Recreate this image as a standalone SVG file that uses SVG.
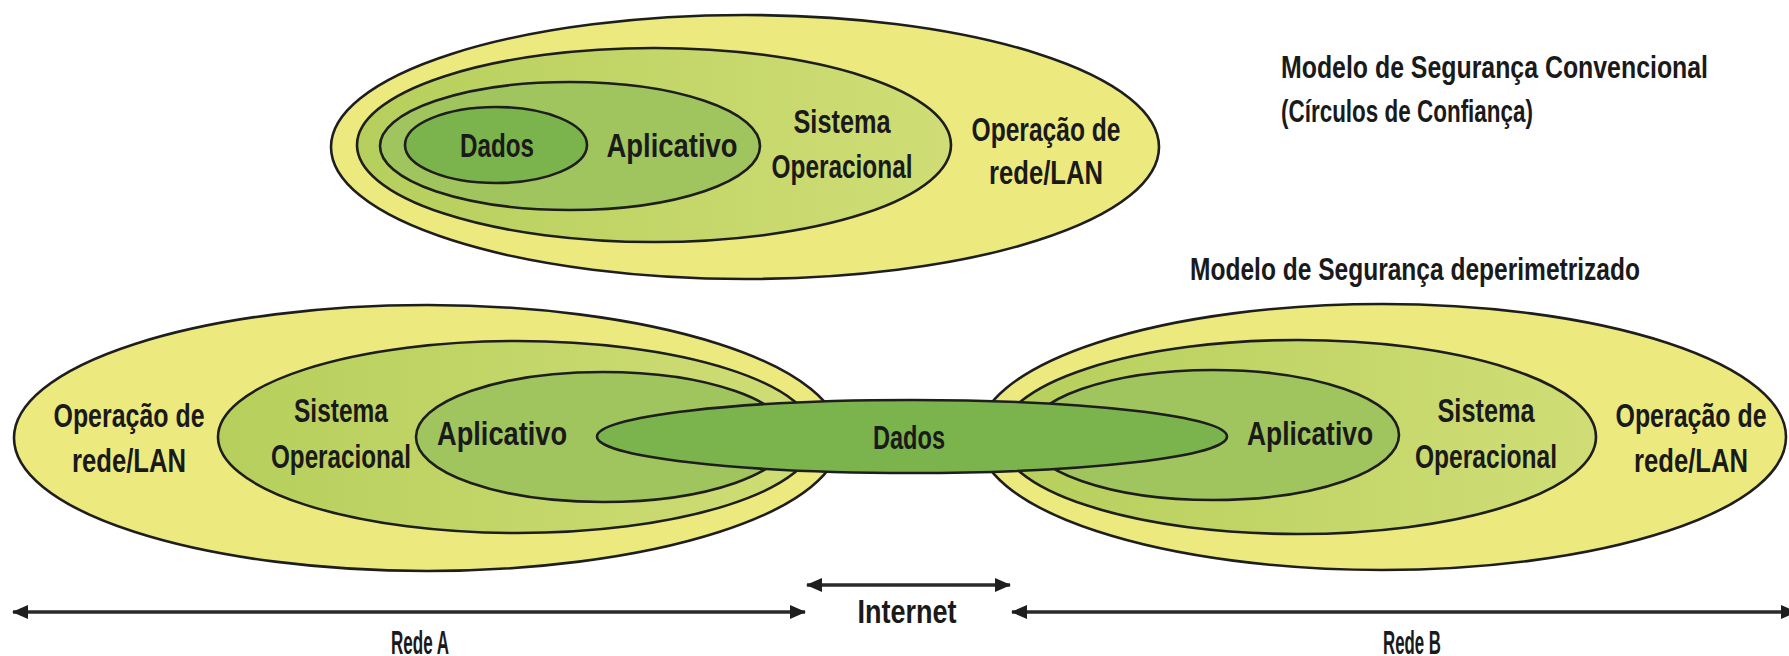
<svg xmlns="http://www.w3.org/2000/svg" width="1789" height="656" viewBox="0 0 1789 656">
  <defs>
    <linearGradient id="gSys" x1="0" y1="0" x2="1" y2="0">
      <stop offset="0" stop-color="#b6cf5c"/>
      <stop offset="1" stop-color="#d0dd76"/>
    </linearGradient>
    <marker id="ah" viewBox="0 0 16 14" refX="15" refY="7" markerWidth="16" markerHeight="14" markerUnits="userSpaceOnUse" orient="auto-start-reverse">
      <path d="M0,0 L16,7 L0,14 Z" fill="#1e1e1e"/>
    </marker>
  </defs>
  <style>
    .ring { stroke: #1e1e1e; stroke-width: 2.6; }
    .net { fill: #ece97f; }
    .sys { fill: url(#gSys); }
    .app { fill: #a0c55e; }
    .data { fill: #7bb34c; }
    .lbl { font-family: "Liberation Sans", Arial, sans-serif; font-weight: bold; font-size: 33px; fill: #1a1a1a; text-anchor: middle; }
    .ttl { font-family: "Liberation Sans", Arial, sans-serif; font-weight: bold; font-size: 32px; fill: #1a1a1a; }
    .span { stroke: #2a2a2a; stroke-width: 3.5; fill: none; }
  </style>
  <rect width="1789" height="656" fill="#ffffff"/>

  <!-- conventional model: nested circles of trust -->
  <g id="conv-rede">
    <ellipse class="ring net" cx="745" cy="147" rx="414" ry="132"/>
    <text class="lbl" x="1046" y="141" textLength="149" lengthAdjust="spacingAndGlyphs">Operação de</text>
    <text class="lbl" x="1046" y="184" textLength="114" lengthAdjust="spacingAndGlyphs">rede/LAN</text>
  </g>
  <g id="conv-sistema">
    <ellipse class="ring sys" cx="654" cy="145" rx="297" ry="97"/>
    <text class="lbl" x="842" y="133" textLength="97" lengthAdjust="spacingAndGlyphs">Sistema</text>
    <text class="lbl" x="842" y="178" textLength="141" lengthAdjust="spacingAndGlyphs">Operacional</text>
  </g>
  <g id="conv-aplicativo">
    <ellipse class="ring app" cx="570" cy="146" rx="190" ry="64"/>
    <text class="lbl" x="672" y="157" textLength="131" lengthAdjust="spacingAndGlyphs">Aplicativo</text>
  </g>
  <g id="conv-dados">
    <ellipse class="ring data" cx="496" cy="145" rx="91" ry="38"/>
    <text class="lbl" x="497" y="157" textLength="74" lengthAdjust="spacingAndGlyphs">Dados</text>
  </g>

  <g id="titles">
    <text class="ttl" x="1281" y="78" textLength="427" lengthAdjust="spacingAndGlyphs">Modelo de Segurança Convencional</text>
    <text class="ttl" x="1281" y="122" textLength="252" lengthAdjust="spacingAndGlyphs">(Círculos de Confiança)</text>
    <text class="ttl" x="1190" y="280" textLength="450" lengthAdjust="spacingAndGlyphs">Modelo de Segurança deperimetrizado</text>
  </g>

  <!-- deperimeterised model: network A -->
  <g id="a-rede">
    <ellipse class="ring net" cx="427" cy="438" rx="413" ry="133"/>
    <text class="lbl" x="129" y="427" textLength="151" lengthAdjust="spacingAndGlyphs">Operação de</text>
    <text class="lbl" x="129" y="472" textLength="114" lengthAdjust="spacingAndGlyphs">rede/LAN</text>
  </g>
  <g id="a-sistema">
    <ellipse class="ring sys" cx="517" cy="437" rx="299" ry="96"/>
    <text class="lbl" x="341" y="422" textLength="94" lengthAdjust="spacingAndGlyphs">Sistema</text>
    <text class="lbl" x="341" y="468" textLength="140" lengthAdjust="spacingAndGlyphs">Operacional</text>
  </g>
  <g id="a-aplicativo">
    <ellipse class="ring app" cx="603" cy="437" rx="187" ry="65"/>
    <text class="lbl" x="502" y="445" textLength="130" lengthAdjust="spacingAndGlyphs">Aplicativo</text>
  </g>

  <!-- deperimeterised model: network B -->
  <g id="b-rede">
    <ellipse class="ring net" cx="1382" cy="437" rx="404" ry="133"/>
    <text class="lbl" x="1691" y="427" textLength="151" lengthAdjust="spacingAndGlyphs">Operação de</text>
    <text class="lbl" x="1691" y="472" textLength="114" lengthAdjust="spacingAndGlyphs">rede/LAN</text>
  </g>
  <g id="b-sistema">
    <ellipse class="ring sys" cx="1298" cy="437" rx="298" ry="97"/>
    <text class="lbl" x="1486" y="422" textLength="97" lengthAdjust="spacingAndGlyphs">Sistema</text>
    <text class="lbl" x="1486" y="468" textLength="142" lengthAdjust="spacingAndGlyphs">Operacional</text>
  </g>
  <g id="b-aplicativo">
    <ellipse class="ring app" cx="1213" cy="435" rx="186" ry="65"/>
    <text class="lbl" x="1310" y="445" textLength="126" lengthAdjust="spacingAndGlyphs">Aplicativo</text>
  </g>

  <!-- shared data spanning both networks -->
  <g id="dados">
    <ellipse class="ring data" cx="912" cy="436.5" rx="315" ry="36.5"/>
    <text class="lbl" x="909" y="449" textLength="72" lengthAdjust="spacingAndGlyphs">Dados</text>
  </g>

  <!-- extent arrows -->
  <g id="connectors">
    <line class="span" x1="13" y1="612" x2="805" y2="612" marker-start="url(#ah)" marker-end="url(#ah)"/>
    <line class="span" x1="807" y1="585" x2="1010" y2="585" marker-start="url(#ah)" marker-end="url(#ah)"/>
    <line class="span" x1="1012" y1="612" x2="1796" y2="612" marker-start="url(#ah)" marker-end="url(#ah)"/>
  </g>
  <g id="span-labels">
    <text class="lbl" x="907" y="623" textLength="99" lengthAdjust="spacingAndGlyphs">Internet</text>
    <text class="lbl" x="420" y="654" textLength="58" lengthAdjust="spacingAndGlyphs">Rede A</text>
    <text class="lbl" x="1412" y="654" textLength="58" lengthAdjust="spacingAndGlyphs">Rede B</text>
  </g>
</svg>
